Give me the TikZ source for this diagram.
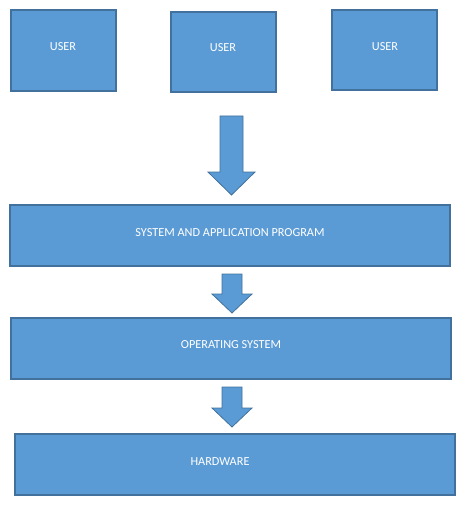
\documentclass[tikz,border=0pt]{standalone}
\usepackage{fontspec}
\setmainfont{Carlito}
\definecolor{boxfill}{HTML}{5B9BD5}
\definecolor{boxline}{HTML}{41719C}
\begin{document}
\begin{tikzpicture}[x=0.75pt,y=-0.75pt,
  blk/.style={fill=boxfill,draw=boxline,line width=1pt},
  lbl/.style={text=white,font=\fontsize{9.2}{10}\selectfont,inner sep=0pt}]
\useasboundingbox (0,0) rectangle (465,506);
% user boxes
\draw[blk] (11,10) rectangle (116,91);
\draw[blk] (171,12) rectangle (276,92);
\draw[blk] (332,10) rectangle (437,90);
\node[lbl] (u1) at (63,47) {USER};
\node[lbl] (u2) at (223,48) {USER};
\node[lbl] (u3) at (385,47) {USER};
% big arrow
\draw[blk,line width=0.6pt] (220,116) -- (243,116) -- (243,172) -- (255,172) -- (231.5,195) -- (208,172) -- (220,172) -- cycle;
% system box
\draw[blk] (10,205) rectangle (450,266);
\node[lbl] (sys) at (230,233) {SYSTEM AND APPLICATION PROGRAM};
% arrow 2
\draw[blk,line width=0.6pt] (222,274) -- (242,274) -- (242,294) -- (252,294) -- (232,313) -- (212,294) -- (222,294) -- cycle;
% os box
\draw[blk] (11,318) rectangle (451,379);
\node[lbl] (os) at (231,345) {OPERATING SYSTEM};
% arrow 3
\draw[blk,line width=0.6pt] (222,387) -- (242,387) -- (242,408) -- (252,408) -- (232,427) -- (212,408) -- (222,408) -- cycle;
% hardware box
\draw[blk] (15,434) rectangle (455,495);
\node[lbl] (hw) at (220,462) {HARDWARE};
\end{tikzpicture}
\end{document}
